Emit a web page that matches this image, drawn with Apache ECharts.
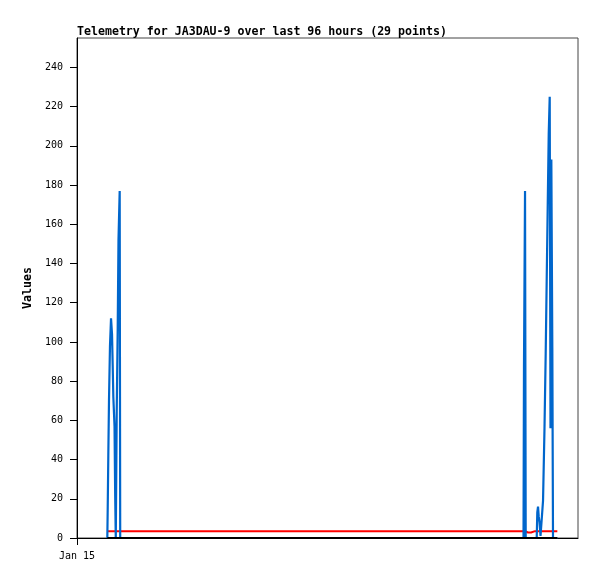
<!DOCTYPE html>
<html>
<head>
<meta charset="utf-8">
<script src="https://cdn.jsdelivr.net/npm/echarts@6/dist/echarts.min.js"></script>
<style>html,body{margin:0;padding:0;background:#fff}#c{width:597px;height:579px}</style>
</head>
<body>
<div id="c"></div>
<script>
// hours since Jan 15 00:00
const blueHours = [5.81,5.88,6.00,6.13,6.32,6.52,6.71,6.84,6.96,7.19,7.32,7.43,7.61,7.80,7.95,8.18,8.28,
  85.56,85.65,85.85,85.98,88.09,88.20,88.34,88.47,88.63,88.82,89.01,89.30,89.58,89.81,90.00,90.19,90.39,90.58,90.73,90.89,91.08,91.21,92.04];
const blueValues = [0,14,42,70,98,112,104,88,72,57,21,0,64,107,152,177,0,
  0,88,177,0,0,13,16,11,8,1,0,19,56,94,131,168,206,225,56,193,97,0,0];
const redHours = [5.94,85.85,86.04,86.42,86.71,87.00,87.38,87.76,92.04];
const redValues = [3.5,3.5,2.6,2.8,3.2,2.8,3.0,3.5,3.5];
const blackHours = [5.81,92.04];
const blackValues = [0,0];
const yTicks = [0,20,40,60,80,100,120,140,160,180,200,220,240];
const xTicks = [0];
const xTickLabels = ['Jan 15'];
const titleText = 'Telemetry for JA3DAU-9 over last 96 hours (29 points)';
const yName = 'Values';

const zip = (a, b) => a.map((v, i) => [v, b[i]]);
const chart = echarts.init(document.getElementById('c'), null, {renderer: 'canvas'});
const mono = 'DejaVu Sans Mono';
chart.setOption({
  animation: false,
  backgroundColor: '#fff',
  title: {
    text: titleText, left: 77, top: 26, padding: 0,
    textStyle: {fontFamily: mono, fontSize: 11.6, fontWeight: 'bold', color: '#000'}
  },
  grid: {left: 77, top: 38, right: 19, bottom: 41, show: true, borderColor: '#444', borderWidth: 1},
  xAxis: {
    type: 'value', min: 0, max: 96,
    axisLine: {show: true, lineStyle: {color: '#000', width: 1}},
    axisTick: {show: true, inside: false, length: 7, customValues: xTicks, lineStyle: {color: '#000'}},
    axisLabel: {customValues: xTicks, formatter: v => xTickLabels[xTicks.indexOf(v)] || '',
      fontFamily: mono, fontSize: 10, color: '#000', margin: 13},
    splitLine: {show: false}
  },
  yAxis: {
    type: 'value', min: 0, max: 255,
    name: yName, nameLocation: 'middle', nameGap: 34,
    nameTextStyle: {fontFamily: mono, fontSize: 11.6, fontWeight: 'bold', color: '#000'},
    axisLine: {show: true, lineStyle: {color: '#000', width: 1}},
    axisTick: {show: true, inside: false, length: 7, customValues: yTicks, lineStyle: {color: '#000'}},
    axisLabel: {customValues: yTicks, fontFamily: mono, fontSize: 10, color: '#000', margin: 14},
    splitLine: {show: false}
  },
  series: [
    {type: 'line', data: zip(redHours, redValues), symbol: 'none', z: 2,
      lineStyle: {color: '#ff0000', width: 2}},
    {type: 'line', data: zip(blueHours, blueValues), symbol: 'none', z: 3,
      lineStyle: {color: '#0066cc', width: 2.2}},
    {type: 'line', data: zip(blackHours, blackValues), symbol: 'none', z: 4,
      lineStyle: {color: '#000000', width: 2}}
  ]
});
</script>
</body>
</html>
